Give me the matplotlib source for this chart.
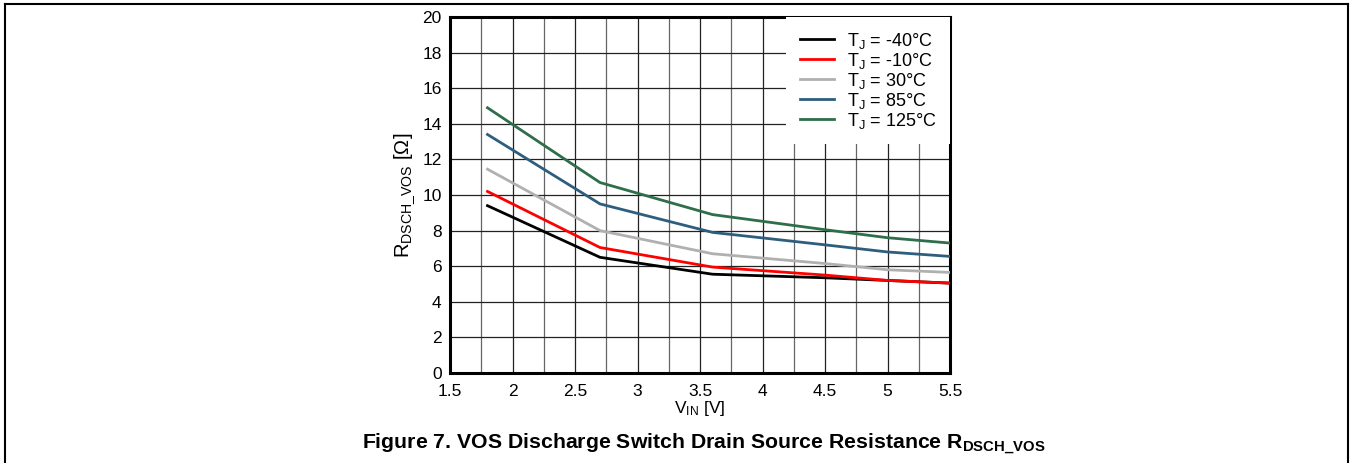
import matplotlib.pyplot as plt
import numpy as np
from matplotlib.lines import Line2D

plt.rcParams["font.family"] = ["Liberation Sans", "DejaVu Sans"]
plt.rcParams["mathtext.fontset"] = "custom"
plt.rcParams["mathtext.rm"] = "Liberation Sans"
plt.rcParams["mathtext.it"] = "Liberation Sans"
plt.rcParams["mathtext.bf"] = "Liberation Sans:bold"

# Input voltage sample points [V]
vin = [1.8, 2.7, 3.6, 4.5, 5.0, 5.5]

# Discharge switch resistance [Ohm] per junction temperature
r_m40 = [9.4, 6.5, 5.55, 5.35, 5.2, 5.05]
r_m10 = [10.2, 7.05, 5.95, 5.5, 5.2, 5.05]
r_30 = [11.45, 8.0, 6.7, 6.15, 5.8, 5.65]
r_85 = [13.4, 9.5, 7.9, 7.2, 6.8, 6.55]
r_125 = [14.9, 10.7, 8.9, 8.05, 7.6, 7.3]

labels = [r"T$_\mathrm{J}$ = -40°C", r"T$_\mathrm{J}$ = -10°C", r"T$_\mathrm{J}$ = 30°C",
          r"T$_\mathrm{J}$ = 85°C", r"T$_\mathrm{J}$ = 125°C"]
colors = ["#000000", "#ff0000", "#b0b0b0", "#2e5e7e", "#2e6e4a"]
series = [r_m40, r_m10, r_30, r_85, r_125]

fig = plt.figure(figsize=(13.5, 4.63), dpi=100)
ax = fig.add_axes([450 / 1350, 90 / 463, 500 / 1350, 356 / 463])

for ys, c, lab in zip(series, colors, labels):
    ax.plot(vin, ys, color=c, lw=2, label=lab, zorder=3)

ax.set_xlim(1.5, 5.5)
ax.set_ylim(0, 20)
ax.set_xticks(np.arange(1.5, 5.51, 0.5))
ax.set_xticklabels(["1.5", "2", "2.5", "3", "3.5", "4", "4.5", "5", "5.5"])
ax.set_xticks(np.arange(1.75, 5.5, 0.5), minor=True)
ax.set_yticks(np.arange(0, 21, 2))
ax.grid(which="major", color="#222222", lw=0.9, zorder=1)
ax.grid(which="minor", axis="x", color="#666666", lw=0.9, zorder=1)
ax.tick_params(which="both", length=0, labelsize=12.5)
ax.tick_params(axis="x", pad=8)
ax.tick_params(axis="y", pad=6)
for s in ax.spines.values():
    s.set_linewidth(2.2)

ax.set_xlabel(r"V$_\mathrm{IN}$ [V]", fontsize=12.5, labelpad=0)
ax.set_ylabel(r"R$_\mathrm{DSCH\_VOS}$ [Ω]", fontsize=14.5, labelpad=4)

leg = ax.legend(loc="upper right", fontsize=13, frameon=True, framealpha=1,
                edgecolor="none", fancybox=False, borderaxespad=0,
                handlelength=1.9, handletextpad=0.7, labelspacing=0.0,
                borderpad=0.75)
leg.set_zorder(5)

fig.text(0.521, 19 / 463,
         r"Figure 7. VOS Discharge Switch Drain Source Resistance R$_\mathbf{DSCH\_VOS}$",
         ha="center", va="center", fontsize=15.3, fontweight="bold")

# Outer frame (top, left, right)
for xs, ys in [([5, 1348], [459, 459]), ([5, 5], [0, 459]), ([1348, 1348], [0, 459])]:
    fig.add_artist(Line2D(np.array(xs) / 1350, np.array(ys) / 463,
                          color="black", lw=1.5, transform=fig.transFigure))

fig.savefig("out.png", dpi=100)
